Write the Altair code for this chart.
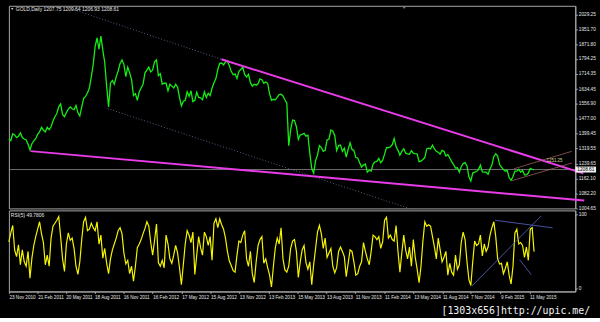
import altair as alt
import pandas as pd

# ---------------- data ----------------
series_start = "2010-11-23"
series_step = "6D"

price_close = [
    1370, 1362, 1398, 1392, 1378, 1385, 1402, 1378, 1370, 1365,
    1342, 1312, 1345, 1360, 1372, 1395, 1408, 1432, 1418, 1408,
    1432, 1420, 1435, 1465, 1488, 1505, 1540, 1556, 1500, 1488,
    1510, 1528, 1540, 1530, 1525, 1548, 1510, 1492, 1540, 1585,
    1595, 1615, 1640, 1700, 1765, 1860, 1905, 1845, 1915, 1840,
    1775, 1650, 1540, 1665, 1680, 1660, 1700, 1730, 1770, 1788,
    1765, 1700, 1750, 1720, 1685, 1600, 1610, 1575, 1620, 1640,
    1660, 1720, 1735, 1750, 1725, 1735, 1778, 1788, 1705, 1715,
    1660, 1665, 1665, 1625, 1660, 1650, 1640, 1660, 1645, 1590,
    1545, 1570, 1575, 1620, 1595, 1625, 1568, 1575, 1618, 1590,
    1588, 1578, 1620, 1590, 1612, 1600, 1640, 1668, 1690, 1738,
    1770, 1772, 1762, 1778, 1782, 1758, 1728, 1710, 1715, 1690,
    1728, 1738, 1750, 1712, 1698, 1712, 1668, 1650, 1660, 1655,
    1662, 1688, 1684, 1665, 1672, 1665, 1610, 1575, 1580, 1578,
    1590, 1605, 1607, 1598, 1578, 1560, 1335, 1420, 1470, 1468,
    1435, 1368, 1392, 1395, 1400, 1385, 1390, 1295, 1215, 1190,
    1255, 1285, 1335, 1325, 1305, 1310, 1365, 1370, 1418, 1412,
    1388, 1310, 1335, 1338, 1305, 1322, 1275, 1315, 1350, 1315,
    1310, 1272, 1270, 1245, 1222, 1232, 1238, 1195, 1205, 1200,
    1238, 1250, 1252, 1268, 1245, 1258, 1290, 1325, 1325, 1328,
    1340, 1372, 1330, 1310, 1285, 1305, 1318, 1295, 1292, 1290,
    1308, 1295, 1293, 1292, 1250, 1253, 1262, 1272, 1318, 1322,
    1318, 1338, 1318, 1305, 1300, 1290, 1310, 1305, 1280, 1288,
    1270, 1250, 1235, 1216, 1218, 1195, 1225, 1240, 1245, 1228,
    1170, 1148, 1190, 1195, 1198, 1210, 1232, 1196, 1195, 1195,
    1184, 1212, 1232, 1278, 1292, 1280, 1235, 1222, 1208, 1200,
    1205, 1165, 1152, 1172, 1200, 1200, 1210, 1195, 1204, 1180,
    1180, 1190, 1215, 1210, 1208.61,
]

rsi_values = [
    63, 75, 85, 52, 43, 59, 32, 52, 36, 30,
    50, 14, 41, 58, 70, 80, 90, 74, 62, 32,
    45, 30, 68, 84, 88, 92, 97, 70, 40, 23,
    60, 75, 65, 68, 54, 30, 19, 36, 66, 90,
    96, 78, 80, 88, 82, 78, 90, 60, 72, 41,
    54, 34, 20, 40, 52, 60, 68, 78, 82, 74,
    48, 33, 38, 20, 30, 10, 30, 55, 60, 66,
    74, 81, 90, 84, 62, 45, 65, 87, 35, 30,
    38, 28, 72, 60, 40, 34, 45, 58, 48, 28,
    5, 32, 60, 78, 72, 62, 76, 19, 45, 70,
    55, 45, 76, 70, 58, 70, 38, 88, 94, 82,
    94, 86, 80, 68, 50, 37, 31, 24, 22, 45,
    64, 62, 72, 78, 40, 30, 50, 20, 8, 36,
    58, 66, 70, 34, 40, 28, 18, 2, 30, 55,
    68, 60, 82, 40, 25, 22, 30, 54, 64, 66,
    50, 15, 36, 52, 58, 35, 26, 36, 5, 32,
    54, 76, 85, 74, 54, 68, 42, 48, 54, 30,
    21, 28, 50, 56, 50, 43, 16, 34, 52, 50,
    36, 18, 20, 30, 36, 62, 50, 40, 32, 50,
    72, 70, 66, 70, 54, 63, 92, 96, 68, 72,
    66, 64, 85, 50, 22, 48, 72, 52, 40, 56,
    30, 66, 42, 26, 8, 30, 64, 90, 84, 86,
    84, 70, 56, 40, 68, 52, 36, 42, 50, 18,
    34, 22, 18, 45, 26, 32, 62, 76, 66, 36,
    12, 4, 36, 64, 58, 60, 72, 44, 60, 50,
    56, 72, 82, 90, 70, 40, 33, 34, 20, 27,
    36, 18, 6, 30, 75, 80, 60, 62, 58, 42,
    56, 38, 80, 82, 49.78,
]

x_tick_labels = [
    "23 Nov 2010", "21 Feb 2011", "20 May 2011", "18 Aug 2011", "16 Nov 2011",
    "16 Feb 2012", "17 May 2012", "15 Aug 2012", "13 Nov 2012", "13 Feb 2013",
    "15 May 2013", "13 Aug 2013", "11 Nov 2013", "11 Feb 2014", "13 May 2014",
    "11 Aug 2014", "7 Nov 2014", "9 Feb 2015", "11 May 2015",
]
price_ticks = [2029.25, 1951.70, 1871.80, 1794.25, 1714.35, 1634.45, 1556.90,
               1477.00, 1399.45, 1319.55, 1239.65, 1162.10, 1082.20, 1004.65]
rsi_ticks = [0, 100]

x_domain = ["2010-11-23", "2015-10-01"]
price_domain = [1003.0, 2074.7]
rsi_domain = [-4.0, 105.33]

last_price = 1208.61
header_text = "GOLD,Daily  1207.75 1209.64 1206.93 1208.61"
rsi_header_text = "RSI(5) 49.7806"
footer_text = "[1303x656]http://upic.me/"

# trend lines (date, price) pairs
magenta_seg = ["upper", "upper", "lower", "lower"]
magenta_dates = ["2012-09-18", "2015-10-26", "2011-01-30", "2015-10-29"]
magenta_prices = [1792.0, 1188.6, 1306.0, 1044.8]

dotted_seg = ["upper", "upper", "lower", "lower"]
dotted_dates = ["2011-06-06", "2012-09-18", "2011-09-28", "2014-04-29"]
dotted_prices = [2059.0, 1792.0, 1531.0, 1003.0]

channel_seg = ["a", "a", "b", "b"]
channel_dates = ["2015-03-17", "2015-09-20", "2015-03-22", "2015-09-20"]
channel_prices = [1150.0, 1243.0, 1212.0, 1305.0]

level_label = "1251.25"
level_date = "2015-07-28"
level_price = 1251.3

rsi_seg = ["up", "up", "down", "down", "short", "short"]
rsi_seg_dates = ["2014-11-11", "2015-06-16", "2015-01-23", "2015-07-22", "2015-04-10", "2015-05-16"]
rsi_seg_values = [3.1, 97.8, 92.0, 81.8, 38.7, 18.7]

# ---------------- frames ----------------
price_df = pd.DataFrame({
    "date": pd.date_range(series_start, periods=len(price_close), freq=series_step),
    "price": price_close,
})
rsi_df = pd.DataFrame({
    "date": pd.date_range(series_start, periods=len(rsi_values), freq=series_step),
    "rsi": rsi_values,
})
magenta_df = pd.DataFrame({"seg": magenta_seg, "date": pd.to_datetime(magenta_dates), "price": magenta_prices})
dotted_df = pd.DataFrame({"seg": dotted_seg, "date": pd.to_datetime(dotted_dates), "price": dotted_prices})
channel_df = pd.DataFrame({"seg": channel_seg, "date": pd.to_datetime(channel_dates), "price": channel_prices})
rsi_seg_df = pd.DataFrame({"seg": rsi_seg, "date": pd.to_datetime(rsi_seg_dates), "rsi": rsi_seg_values})


def dt(s):
    t = pd.Timestamp(s)
    return alt.DateTime(year=t.year, month=t.month, date=t.day)


FG = "#e6e6e6"
FRAME = "#a8a8a8"
FONT = "Liberation Sans"

x_scale = alt.Scale(domain=[dt(d) for d in x_domain], nice=False)
y_scale = alt.Scale(domain=price_domain, nice=False, zero=False)
r_scale = alt.Scale(domain=rsi_domain, nice=False, zero=False)

y_axis = alt.Axis(orient="right", values=price_ticks, format=".2f", title=None, grid=False,
                  tickSize=2, labelPadding=1, labelFontSize=4.8, labelColor=FG, labelFont=FONT,
                  domainColor=FRAME, tickColor=FRAME, labelOverlap=False, labelFlush=False)
r_axis = alt.Axis(orient="right", values=rsi_ticks, format="d", title=None, grid=False,
                  tickSize=2, labelPadding=1, labelFontSize=4.8, labelColor=FG, labelFont=FONT,
                  domainColor=FRAME, tickColor=FRAME, labelOverlap=False, labelFlush=False)
x_axis = alt.Axis(orient="bottom", values=[dt(s) for s in x_tick_labels], format="%-d %b %Y",
                  title=None, grid=False, tickSize=2, labelPadding=1, labelAlign="left",
                  labelFontSize=4.7, labelColor=FG, labelFont=FONT, domainColor=FRAME,
                  tickColor=FRAME, labelOverlap=False, labelFlush=False, labelBound=False)

XM = alt.X("date:T", scale=x_scale, axis=None)
YM = alt.Y("price:Q", scale=y_scale, axis=y_axis)
XR = alt.X("date:T", scale=x_scale, axis=x_axis)
YR = alt.Y("rsi:Q", scale=r_scale, axis=r_axis)

# ---------------- main panel ----------------
price_rule = alt.Chart(pd.DataFrame({"price": [last_price]})).mark_rule(
    color="#8c8c8c", strokeWidth=0.8).encode(y=YM)

dotted = alt.Chart(dotted_df).mark_line(color="#6b78a6", strokeWidth=0.8, strokeDash=[1, 2]).encode(
    x=XM, y=YM, detail="seg:N")

price_line = alt.Chart(price_df).mark_line(color="#14ee14", strokeWidth=1.3).encode(x=XM, y=YM)

magenta = alt.Chart(magenta_df).mark_line(color="#e83ce8", strokeWidth=2).encode(
    x=XM, y=YM, detail="seg:N")

channel = alt.Chart(channel_df).mark_line(color="#b4686e", strokeWidth=0.7).encode(
    x=XM, y=YM, detail="seg:N")

level = alt.Chart(pd.DataFrame({"date": [pd.Timestamp(level_date)], "price": [level_price],
                                "t": [level_label]})).mark_text(
    fontSize=4.5, font=FONT, color="#d2d28c").encode(x=XM, y=YM, text="t:N")

box_df = pd.DataFrame({"price": [last_price], "t": [f"{last_price:.2f}"]})
price_box = alt.Chart(box_df).mark_rule(color="#f0f0f0", strokeWidth=6).encode(
    y=YM, x=alt.value(573), x2=alt.value(594))
price_box_text = alt.Chart(box_df).mark_text(
    align="left", baseline="middle", fontSize=4.8, font=FONT, color="black").encode(
    y=YM, x=alt.value(575), text="t:N")

header_tri = alt.Chart(pd.DataFrame({"t": ["▼"]})).mark_text(
    align="left", baseline="middle", fontSize=3.5, color=FG).encode(
    x=alt.value(1.5), y=alt.value(3), text="t:N")
header = alt.Chart(pd.DataFrame({"t": [header_text]})).mark_text(
    align="left", baseline="middle", fontSize=5, font=FONT, color=FG).encode(
    x=alt.value(7), y=alt.value(3), text="t:N")
shift_tri = alt.Chart(pd.DataFrame({"t": ["▼"]})).mark_text(
    align="center", baseline="top", fontSize=3.5, color="#9a9a9a").encode(
    x=alt.value(400), y=alt.value(0), text="t:N")

main = alt.layer(price_rule, dotted, price_line, magenta, channel, level,
                 price_box, price_box_text, header_tri, header, shift_tri).properties(
    width=573, height=205)

# ---------------- RSI panel ----------------
rsi_line = alt.Chart(rsi_df).mark_line(color="#f5f500", strokeWidth=1.2).encode(x=XR, y=YR)
rsi_trend = alt.Chart(rsi_seg_df).mark_line(color="#5a66c8", strokeWidth=0.8).encode(
    x=XR, y=YR, detail="seg:N")
rsi_header = alt.Chart(pd.DataFrame({"t": [rsi_header_text]})).mark_text(
    align="left", baseline="middle", fontSize=5, font=FONT, color=FG).encode(
    x=alt.value(2), y=alt.value(5), text="t:N")
footer = alt.Chart(pd.DataFrame({"t": [footer_text]})).mark_text(
    align="right", baseline="middle", fontSize=10, font="DejaVu Sans Mono", color="#f2f2f2").encode(
    x=alt.value(588), y=alt.value(101.5), text="t:N")

rsi = alt.layer(rsi_line, rsi_trend, rsi_header, footer).properties(width=573, height=82)

chart = alt.vconcat(main, rsi, spacing=2, bounds="flush").properties(
    padding={"left": 5, "top": 3, "right": 0, "bottom": 0},
    background="black",
).configure_view(stroke=FRAME, strokeWidth=1)

chart.save("out.html", embed_options={"renderer": "svg", "actions": False})
